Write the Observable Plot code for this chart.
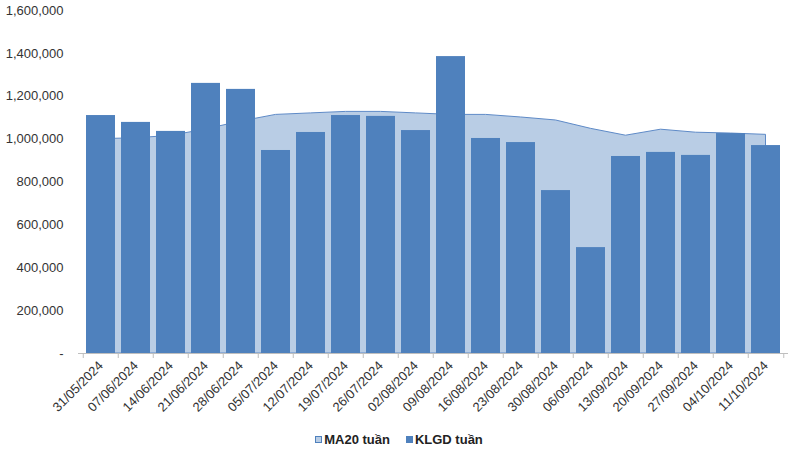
<!DOCTYPE html>
<html><head><meta charset="utf-8">
<script src="https://cdn.jsdelivr.net/npm/d3@7"></script>
<script src="https://cdn.jsdelivr.net/npm/@observablehq/plot@0.6"></script>
<style>
body{margin:0;background:#fff;font-family:"Liberation Sans",Arial,sans-serif;}
#legend{display:flex;justify-content:center;align-items:center;height:28px;font-weight:bold;font-size:13px;color:#222;}
#legend span.item{display:inline-flex;align-items:center;margin:0 8px;}
.sw{display:inline-block;width:7px;height:7px;margin-right:2px;box-sizing:border-box;}
</style></head><body>
<div id="chart"></div>
<div id="legend"></div>
<script>
const weeks = ["31/05/2024","07/06/2024","14/06/2024","21/06/2024","28/06/2024","05/07/2024","12/07/2024","19/07/2024","26/07/2024","02/08/2024","09/08/2024","16/08/2024","23/08/2024","30/08/2024","06/09/2024","13/09/2024","20/09/2024","27/09/2024","04/10/2024","11/10/2024"];
const klgd = [1110000,1078000,1036000,1260000,1232000,947000,1031000,1110000,1106000,1040000,1385000,1003000,984000,760000,494000,919000,938000,924000,1026000,970000];
const ma20 = [1000000,1004000,1015000,1045000,1082000,1113000,1120000,1127000,1127000,1120000,1113000,1113000,1101000,1087000,1048000,1016000,1044000,1030000,1026000,1020000];
const yTicks = [0,200000,400000,600000,800000,1000000,1200000,1400000,1600000];
const seriesNames = ["MA20 tuần","KLGD tuần"];
const colors = {bar:"#4F81BD", area:"#B9CDE5", areaLine:"#5E8AC7", axis:"#BFBFBF", text:"#333333"};

const data = weeks.map((w,i)=>({week:w, klgd:klgd[i], ma20:ma20[i]}));
const W=798,H=425,mL=78,mR=10,mT=10,mB=72;
const step=(W-mL-mR)/weeks.length;
const fmt = d => d===0 ? "-" : d3.format(",")(d);

const chart = Plot.plot({
  width:W, height:H, marginLeft:mL, marginRight:mR, marginTop:mT, marginBottom:mB,
  style:{fontFamily:"'Liberation Sans', Arial, sans-serif", fontSize:"13px", color:colors.text, background:"#fff"},
  x:{type:"band", domain:weeks, paddingInner:0.18, paddingOuter:0.09, label:null, tickSize:0, tickRotate:-45, tickPadding:10},
  y:{domain:[0,1600000], ticks:yTicks, tickFormat:fmt, tickSize:0, tickPadding:15, label:null},
  marks:[
    Plot.areaY(data,{x:"week", y:"ma20", fill:colors.area, stroke:colors.areaLine, strokeWidth:1}),
    Plot.barY(data,{x:"week", y:"klgd", fill:colors.bar}),
    Plot.ruleY([0],{stroke:colors.axis}),
    Plot.ruleX(weeks,{x:d=>d, y1:0, y2:0, insetBottom:-5, dx:-step/2, stroke:colors.axis}),
    Plot.ruleX([weeks[weeks.length-1]],{x:d=>d, y1:0, y2:0, insetBottom:-5, dx:step/2, stroke:colors.axis})
  ]
});
document.getElementById("chart").appendChild(chart);

const leg = document.getElementById("legend");
[[seriesNames[0], colors.area, "1px solid "+colors.bar],[seriesNames[1], colors.bar, "none"]].forEach(([name,fill,border])=>{
  const it=document.createElement("span"); it.className="item";
  const sw=document.createElement("span"); sw.className="sw"; sw.style.background=fill; sw.style.border=border;
  it.appendChild(sw); it.appendChild(document.createTextNode(name));
  leg.appendChild(it);
});
</script>
</body></html>
